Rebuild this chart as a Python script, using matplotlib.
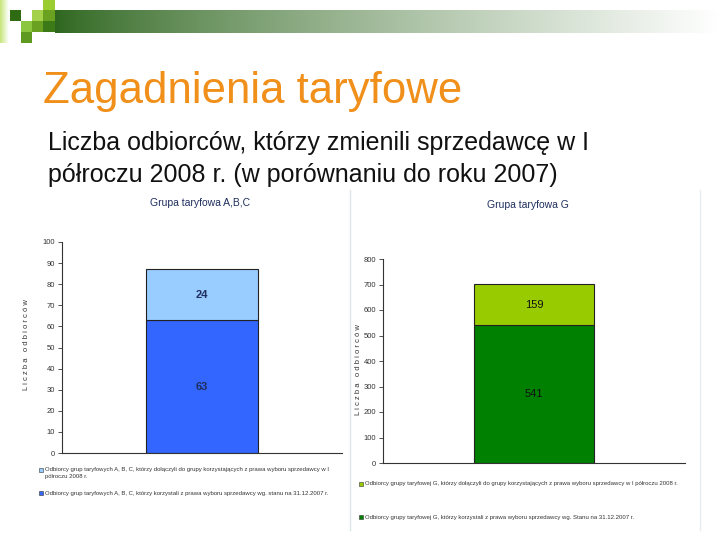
import numpy as np
import matplotlib.pyplot as plt
from matplotlib.patches import Rectangle

# dane
grupa_abc = ['A,B,C']
abc_2007 = [63]
abc_2008 = [24]
grupa_g = ['G']
g_2007 = [541]
g_2008 = [159]

ticks_abc = list(range(0, 101, 10))
ticks_g = list(range(0, 801, 100))

leg_abc = ['Odbiorcy grup taryfowych A, B, C, którzy dołączyli do grupy korzystających z prawa wyboru sprzedawcy w I\npółroczu 2008 r.',
           'Odbiorcy grup taryfowych A, B, C, którzy korzystali z prawa wyboru sprzedawcy wg. stanu na 31.12.2007 r.']
leg_g = ['Odbiorcy grupy taryfowej G, którzy dołączyli do grupy korzystających z prawa wyboru sprzedawcy w I półroczu 2008 r.',
         'Odbiorcy grupy taryfowej G, którzy korzystali z prawa wyboru sprzedawcy wg. Stanu na 31.12.2007 r.']

W, H = 720, 540
narrow = ['Liberation Sans', 'DejaVu Sans']
plt.rcParams['font.family'] = ['Liberation Sans', 'DejaVu Sans']

fig = plt.figure(figsize=(7.2, 5.4), dpi=100)


def px(x, y, w, h):
    # prostokat w pikselach (od gory) -> wspolrzedne figury
    return [x / W, 1 - (y + h) / H, w / W, h / H]


# pasek z gradientem u gory
bg = fig.add_axes(px(55, 10, 665, 23))
grad = np.linspace(0, 1, 256) ** 0.8
c0 = np.array([0.18, 0.40, 0.12])
c1 = np.array([1.0, 1.0, 1.0])
img = c0[None, :] * (1 - grad[:, None]) + c1[None, :] * grad[:, None]
bg.imshow(img[None, :, :], aspect='auto', extent=[0, 1, 0, 1])
bg.axis('off')

# pasek po lewej (gradient jasnozielony -> bialy)
lb = fig.add_axes(px(0, 0, 9, 43))
g2 = np.linspace(0, 1, 32)
cl0 = np.array([0.78, 0.90, 0.48])
img2 = cl0[None, :] * (1 - g2[:, None]) + c1[None, :] * g2[:, None]
lb.imshow(img2[None, :, :], aspect='auto', extent=[0, 1, 0, 1])
lb.axis('off')

# kwadraty w lewym gornym rogu
deco = fig.add_axes([0, 0, 1, 1])
deco.set_xlim(0, W)
deco.set_ylim(H, 0)
deco.axis('off')
deco.patch.set_alpha(0)
kol = [10, 21, 32, 43, 55]
wier = [0, 10, 21, 32, 43]
sq = [(3, 0, '#9acd32'), (0, 1, '#2e6b12'), (2, 1, '#a3d14a'), (3, 1, '#6aa121'),
      (1, 2, '#8cc63f'), (2, 2, '#6aa121'), (3, 2, '#3b7a17'), (1, 3, '#5e9a1f')]
for c, r, col in sq:
    deco.add_patch(Rectangle((kol[c], wier[r]), kol[c + 1] - kol[c],
                             wier[r + 1] - wier[r], color=col, lw=0))
deco.plot([350, 350], [190, 530], color='#dde6ea', lw=1)
deco.plot([700, 700], [190, 530], color='#e6edf0', lw=1)

fig.text(43 / W, 1 - 92 / H, 'Zagadnienia taryfowe', color='#f0901a',
         fontsize=31.5, va='center', ha='left')
fig.text(48 / W, 1 - 143 / H, 'Liczba odbiorców, którzy zmienili sprzedawcę w I',
         fontsize=18, va='center', ha='left', color='#111111')
fig.text(48 / W, 1 - 175 / H, 'półroczu 2008 r. (w porównaniu do roku 2007)',
         fontsize=18, va='center', ha='left', color='#111111')


def wykres(rect, low, high, cl, ch, ticks, ymax, tytul, tytul_xy, lab_xy, txtcol, bold):
    ax = fig.add_axes(rect)
    ax.bar([0.5], low, width=0.40, color=cl, edgecolor='#222222', lw=0.8)
    ax.bar([0.5], high, bottom=low, width=0.40, color=ch, edgecolor='#222222', lw=0.8)
    ax.set_xlim(0, 1)
    ax.set_ylim(0, ymax)
    ax.set_yticks(ticks)
    ax.set_xticks([])
    for s in ['top', 'right']:
        ax.spines[s].set_visible(False)
    for s in ['left', 'bottom']:
        ax.spines[s].set_color('#333333')
        ax.spines[s].set_linewidth(0.8)
    ax.tick_params(axis='y', labelsize=5.5, length=3, width=0.6,
                   colors='#333333', pad=2)
    for t in ax.get_yticklabels():
        t.set_family(narrow)
    fw = 'bold' if bold else 'normal'
    ax.text(0.5, low[0] / 2, str(low[0]), ha='center', va='center',
            fontsize=8, color=txtcol, family=narrow, fontweight=fw)
    ax.text(0.5, low[0] + high[0] / 2, str(high[0]), ha='center', va='center',
            fontsize=8, color=txtcol, family=narrow, fontweight=fw)
    fig.text(tytul_xy[0] / W, 1 - tytul_xy[1] / H, tytul, ha='center', va='center',
             fontsize=7.5, color='#1f2f5f', family=narrow)
    fig.text(lab_xy[0] / W, 1 - lab_xy[1] / H, 'L i c z b a   o d b i o r c ó w',
             rotation=90, ha='center', va='center', fontsize=5.5, color='#333333')
    return ax


wykres(px(62, 242, 280, 211), abc_2007, abc_2008, '#3366ff', '#99ccff',
       ticks_abc, 100, 'Grupa taryfowa A,B,C', (200, 203), (27, 345), '#1f2f5f', True)
wykres(px(383, 259, 302, 204), g_2007, g_2008, '#008000', '#99cc00',
       ticks_g, 800, 'Grupa taryfowa G', (528, 205), (358, 370), '#111111', False)

# legendy
legendy = [(42, 470, '#99ccff', leg_abc[0]), (42, 493, '#3366ff', leg_abc[1]),
           (362, 484, '#99cc00', leg_g[0]), (362, 517, '#008000', leg_g[1])]
for x, y, c, t in legendy:
    deco.add_patch(Rectangle((x - 3, y - 2.5), 4, 4, facecolor=c,
                             edgecolor='#333333', lw=0.4))
    deco.text(x + 3, y - 3 if '\n' in t else y, t, ha='left',
              va='top' if '\n' in t else 'center', fontsize=4.3,
              color='#333333', family=narrow, linespacing=1.4)

fig.savefig('out.png', dpi=100)
